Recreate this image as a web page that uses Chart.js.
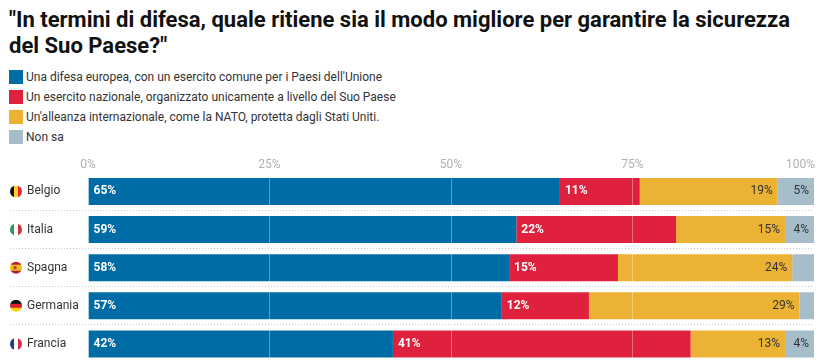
<!DOCTYPE html>
<html lang="it">
<head>
<meta charset="utf-8">
<title>Difesa</title>
<script src="https://cdn.jsdelivr.net/npm/chart.js@4"></script>
<style>
  html, body { margin: 0; padding: 0; background: #fff; overflow: hidden; }
  body { width: 819px; height: 362px; position: relative; font-family: Roboto, sans-serif; }
  h1 { position: absolute; left: 9px; top: 7px; margin: 0; width: 810px; font-size: 22px; line-height: 26px; font-weight: 700; color: #111; }
  #legenda { position: absolute; left: 9px; top: 70px; font-size: 12px; color: #333; }
  .voce { height: 20px; display: flex; }
  .voce i { width: 14px; height: 14px; margin-right: 3px; }
  .voce span { line-height: 14px; }
  canvas { position: absolute; left: 0; top: 0; }
</style>
</head>
<body>
<h1>"In termini di difesa, quale ritiene sia il modo migliore per garantire la sicurezza del Suo Paese?"</h1>
<div id="legenda"></div>
<canvas id="grafico" width="819" height="363"></canvas>
<script>
const paesi = ["Belgio", "Italia", "Spagna", "Germania", "Francia"];
const nomiSerie = [
  "Una difesa europea, con un esercito comune per i Paesi dell'Unione",
  "Un esercito nazionale, organizzato unicamente a livello del Suo Paese",
  "Un'alleanza internazionale, come la NATO, protetta dagli Stati Uniti.",
  "Non sa"
];
const difesaEuropea = [65, 59, 58, 57, 42];
const esercitoNazionale = [11, 22, 15, 12, 41];
const alleanza = [19, 15, 24, 29, 13];
const nonSa = [5, 4, 3, 2, 4];
const colori = ["#006CA5", "#E0213E", "#EBB233", "#A6BDCA"];
const tickValori = [0, 25, 50, 75, 100];

// bandiere: [verso, colori delle strisce]
const bandiere = [
  ["v", ["#111111", "#F7D21E", "#E2233B"]],
  ["v", ["#2E9A55", "#FFFFFF", "#D3313F"]],
  ["h", ["#B81F2D", "#F1BF1D", "#F1BF1D", "#B81F2D"]],
  ["h", ["#111111", "#D8232E", "#FFCE00"]],
  ["v", ["#1F3C94", "#FFFFFF", "#E0283A"]]
];

document.getElementById("legenda").innerHTML = nomiSerie.map((n, i) =>
  `<div class="voce"><i style="background:${colori[i]}"></i><span>${n}</span></div>`).join("");

// separatori punteggiati e bandiere, sotto le barre
const righePaesi = {
  id: "righePaesi",
  beforeDatasetsDraw(chart) {
    const { ctx, scales: { x, y } } = chart;
    ctx.save();
    paesi.forEach((p, i) => {
      const cy = y.getPixelForValue(i);
      if (i < paesi.length - 1) {
        const ry = Math.floor(cy + 19) + 0.5;
        ctx.strokeStyle = "#c8c8c8";
        ctx.lineWidth = 1;
        ctx.setLineDash([1, 2]);
        ctx.beginPath();
        ctx.moveTo(10, ry);
        ctx.lineTo(x.right, ry);
        ctx.stroke();
      }
      ctx.save();
      ctx.beginPath();
      ctx.arc(16, cy, 6, 0, Math.PI * 2);
      ctx.clip();
      const [verso, strisce] = bandiere[i];
      const passo = 12 / strisce.length;
      strisce.forEach((c, k) => {
        ctx.fillStyle = c;
        if (verso === "v") ctx.fillRect(10 + k * passo, cy - 6, passo + 0.5, 12);
        else ctx.fillRect(10, cy - 6 + k * passo, 12, passo + 0.5);
      });
      // stemma spagnolo
      if (p === "Spagna") {
        ctx.fillStyle = "#A8452E";
        ctx.fillRect(13.5, cy - 1.5, 3, 3);
      }
      ctx.restore();
    });
    ctx.restore();
  }
};

// il 100% finisce al bordo destro invece di stare centrato sulla tacca
const tickFinale = {
  id: "tickFinale",
  beforeDraw(chart) {
    const x = chart.scales.x;
    const items = x.getLabelItems();
    const ultimo = items[items.length - 1];
    ultimo.options.textAlign = "right";
    ultimo.options.translation[0] = x.right + 1;
  }
};

const etichette = {
  id: "etichette",
  afterDraw(chart) {
    const { ctx } = chart;
    ctx.save();
    ctx.textBaseline = "middle";
    chart.data.datasets.forEach((ds, d) => {
      chart.getDatasetMeta(d).data.forEach((bar, i) => {
        const v = ds.data[i];
        if (v < 4) return;
        if (d < 2) {
          ctx.font = "700 12px Roboto";
          ctx.fillStyle = "#fff";
          ctx.textAlign = "left";
          ctx.fillText(v + "%", bar.base + 5, bar.y);
        } else {
          ctx.font = "400 12px Roboto";
          ctx.fillStyle = "#333";
          ctx.textAlign = "right";
          ctx.fillText(v + "%", bar.x - 5, bar.y);
        }
      });
    });
    ctx.restore();
  }
};

const serie = [difesaEuropea, esercitoNazionale, alleanza, nonSa];

new Chart(document.getElementById("grafico"), {
  type: "bar",
  data: {
    labels: paesi,
    datasets: serie.map((valori, i) => ({
      label: nomiSerie[i],
      data: valori,
      backgroundColor: colori[i],
      borderWidth: 0,
      categoryPercentage: 1,
      barPercentage: 27 / 38
    }))
  },
  plugins: [righePaesi, tickFinale, etichette],
  options: {
    indexAxis: "y",
    responsive: false,
    animation: false,
    layout: { padding: { top: 158, left: 27, right: 5, bottom: 0 } },
    plugins: { legend: { display: false }, title: { display: false }, tooltip: { enabled: false } },
    scales: {
      x: {
        position: "top",
        stacked: true,
        min: 0,
        max: 100,
        afterBuildTicks(scale) { scale.ticks = tickValori.map(v => ({ value: v })); },
        afterFit(scale) { scale.paddingRight = 0; },
        grid: { color: "rgba(255,255,255,0.35)", drawTicks: false, z: 1 },
        border: { display: false },
        ticks: {
          color: "#b0b0b0",
          font: { family: "Roboto", size: 12 },
          padding: 0,
          maxRotation: 0,
          autoSkip: false,
          callback: v => v + "%"
        }
      },
      y: {
        stacked: true,
        afterFit(scale) { scale.width = 61; scale.paddingTop = 0; scale.paddingBottom = 0; },
        grid: { display: false },
        border: { display: false },
        ticks: {
          color: "#333",
          font: { family: "Roboto", size: 12 },
          crossAlign: "far",
          padding: 0
        }
      }
    }
  }
});
</script>
</body>
</html>
